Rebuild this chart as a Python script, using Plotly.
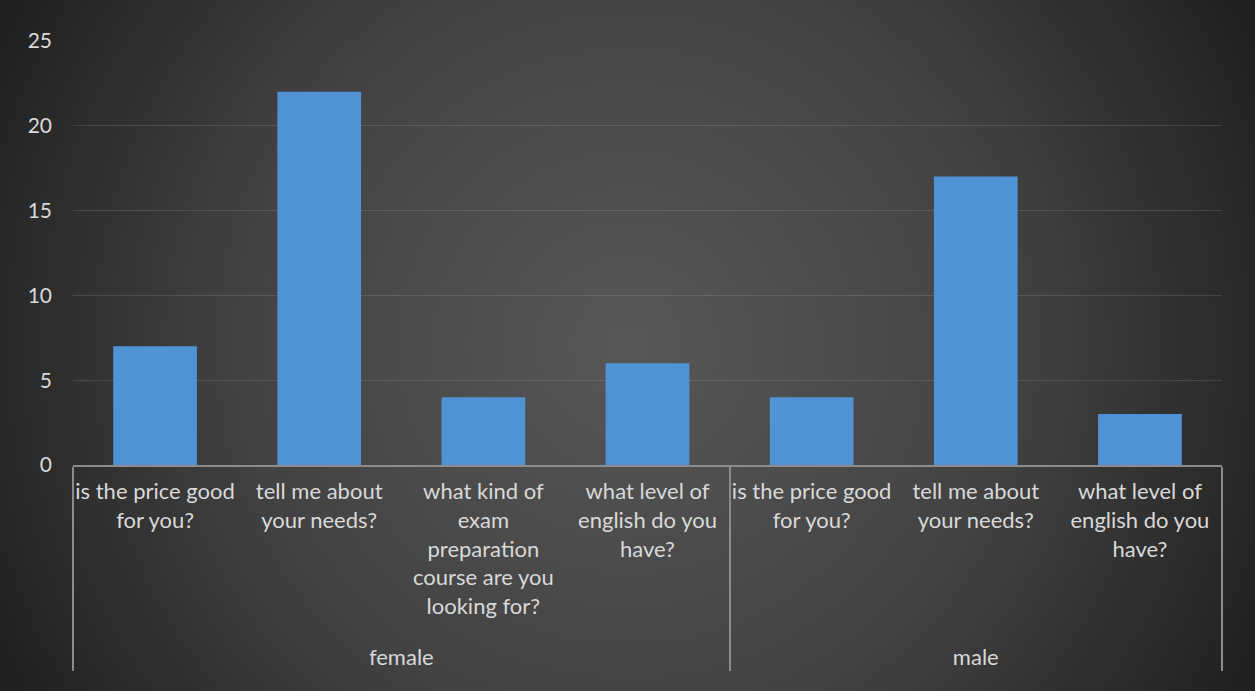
import base64
import plotly.graph_objects as go

# Survey answers grouped by respondent gender
groups = ["female", "female", "female", "female", "male", "male", "male"]
questions = [
    "is the price good<br>for you?",
    "tell me about<br>your needs?",
    "what kind of<br>exam<br>preparation<br>course are you<br>looking for?<br> ",
    "what level of<br>english do you<br>have?",
    "is the price good<br>for you?",
    "tell me about<br>your needs?",
    "what level of<br>english do you<br>have?",
]
counts = [7, 22, 4, 6, 4, 17, 3]
y_ticks = [0, 5, 10, 15, 20, 25]

W, H = 1255, 691
M_L, M_R, M_T, M_B = 73, 33, 40, 226
plot_w = W - M_L - M_R
plot_h = H - M_T - M_B

# Dark radial background behind the whole figure
svg = f"""<svg xmlns='http://www.w3.org/2000/svg' width='{W}' height='{H}'>
<defs><radialGradient id='g' gradientUnits='userSpaceOnUse' cx='{W*0.5}' cy='{H*0.5}' r='{W*0.56}'>
<stop offset='0' stop-color='#575757'/><stop offset='0.55' stop-color='#424242'/>
<stop offset='1' stop-color='#202020'/></radialGradient></defs>
<rect width='{W}' height='{H}' fill='url(#g)'/></svg>"""
bg_src = "data:image/svg+xml;base64," + base64.b64encode(svg.encode()).decode()

fig = go.Figure(
    go.Bar(
        x=[groups, questions],
        y=counts,
        marker=dict(color="#5093d5", line=dict(width=0)),
        hoverinfo="skip",
    )
)

fig.update_layout(
    width=W,
    height=H,
    margin=dict(l=M_L, r=M_R, t=M_T, b=M_B),
    paper_bgcolor="#333333",
    plot_bgcolor="rgba(0,0,0,0)",
    bargap=0.49,
    showlegend=False,
    font=dict(family="Lato, Open Sans, sans-serif", size=21, color="#d9d9d9"),
    images=[
        dict(
            source=bg_src,
            xref="paper",
            yref="paper",
            x=-M_L / plot_w,
            y=1 + M_T / plot_h,
            sizex=W / plot_w,
            sizey=H / plot_h,
            sizing="stretch",
            xanchor="left",
            yanchor="top",
            layer="below",
        )
    ],
)

fig.update_xaxes(
    type="multicategory",
    automargin=False,
    tickangle=0,
    showline=True,
    linecolor="#8c8c8c",
    linewidth=2,
    showdividers=True,
    dividercolor="#8c8c8c",
    dividerwidth=2,
    showgrid=False,
    ticks="",
    ticklabelstandoff=6,
    tickfont=dict(size=22, color="#d9d9d9"),
)
fig.update_yaxes(
    automargin=False,
    range=[0, 25.05],
    tickvals=y_ticks,
    showgrid=True,
    gridcolor="rgba(255,255,255,0.12)",
    gridwidth=1,
    zeroline=False,
    showline=False,
    ticks="",
    ticklabelstandoff=20,
    tickfont=dict(size=21, color="#d9d9d9"),
)

fig.write_html("out.html")
